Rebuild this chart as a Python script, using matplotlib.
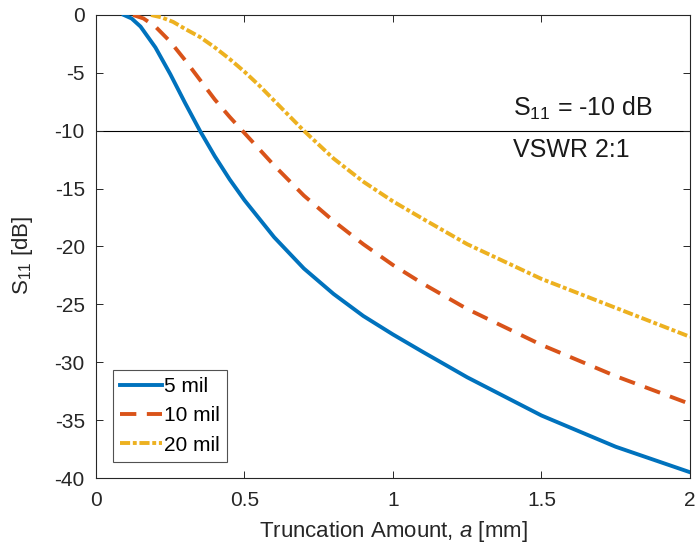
import matplotlib
matplotlib.use("Agg")
import matplotlib.pyplot as plt

plt.rcParams['font.family'] = ['Liberation Sans', 'DejaVu Sans']
plt.rcParams['axes.unicode_minus'] = False
plt.rcParams['mathtext.fontset'] = 'custom'
plt.rcParams['mathtext.rm'] = 'Liberation Sans'
plt.rcParams['mathtext.it'] = 'Liberation Sans:italic'

x_5mil = [0.094, 0.12, 0.15, 0.2, 0.25, 0.3, 0.35, 0.4, 0.45, 0.5, 0.6, 0.7, 0.8, 0.9, 1.0, 1.1, 1.25, 1.5, 1.75, 2.0]
y_5mil = [0.0, -0.3, -1.0, -2.8, -5.1, -7.6, -10.0, -12.2, -14.2, -16.0, -19.2, -21.9, -24.1, -26.0, -27.6, -29.1, -31.3, -34.6, -37.3, -39.5]

x_10mil = [0.125, 0.16, 0.2, 0.25, 0.3, 0.35, 0.4, 0.45, 0.5, 0.6, 0.7, 0.8, 0.9, 1.0, 1.1, 1.25, 1.5, 1.75, 2.0]
y_10mil = [0.0, -0.3, -1.0, -2.3, -3.9, -5.6, -7.3, -8.8, -10.2, -13.0, -15.6, -17.8, -19.8, -21.6, -23.2, -25.4, -28.5, -31.2, -33.6]

x_20mil = [0.185, 0.22, 0.26, 0.3, 0.35, 0.4, 0.45, 0.5, 0.55, 0.6, 0.65, 0.7, 0.8, 0.9, 1.0, 1.1, 1.25, 1.5, 1.75, 2.0]
y_20mil = [0.0, -0.2, -0.6, -1.2, -1.9, -2.8, -3.8, -4.9, -6.1, -7.4, -8.7, -10.0, -12.4, -14.4, -16.1, -17.6, -19.8, -22.8, -25.3, -27.8]

labels = ['5 mil', '10 mil', '20 mil']
colors = ['#0072BD', '#D95319', '#EDB120']
ref_level = -10

fig = plt.figure(figsize=(6.98, 5.53), dpi=100)
ax = fig.add_axes([0.1375, 0.1356, 0.851, 0.8373])

ax.axhline(ref_level, color='black', lw=0.8, zorder=1)
l1, = ax.plot(x_5mil, y_5mil, color=colors[0], lw=2.8, label=labels[0], zorder=3)
l2, = ax.plot(x_10mil, y_10mil, color=colors[1], lw=2.8, label=labels[1], zorder=3)
l2.set_dashes((4.2, 2.7))
l3, = ax.plot(x_20mil, y_20mil, color=colors[2], lw=2.8, label=labels[2], zorder=3)
l3.set_dashes((2.6, 0.7, 1.0, 0.7))

ax.set_xlim(0, 2)
ax.set_ylim(-40, 0)
ax.set_xticks([0, 0.5, 1, 1.5, 2])
ax.set_xticklabels(['0', '0.5', '1', '1.5', '2'])
ax.set_yticks(range(-40, 1, 5))
ax.tick_params(direction='in', top=True, right=True, labelsize=15,
               length=5, width=0.7, colors='#262626')
ax.tick_params(axis='x', pad=9)
ax.tick_params(axis='y', pad=8)
for s in ax.spines.values():
    s.set_color('#262626')
    s.set_linewidth(0.8)

ax.set_xlabel('Truncation Amount, $\\mathit{a}$ [mm]', fontsize=16, color='#262626', labelpad=7)
ax.set_ylabel('$\\mathregular{S_{11}}$ [dB]', fontsize=16, color='#262626')
ax.yaxis.set_label_coords(-0.103, 0.48)

ax.text(1.404, -8.7, '$\\mathregular{S_{11}}$ = -10 dB', fontsize=18, color='#1a1a1a', va='baseline', ha='left')
ax.text(1.404, -12.3, 'VSWR 2:1', fontsize=18, color='#1a1a1a', va='baseline', ha='left')

leg = ax.legend(loc='lower left', bbox_to_anchor=(0.0286, 0.0346), borderaxespad=0,
                fontsize=15, frameon=True, fancybox=False, edgecolor='#262626',
                handlelength=2.0, handletextpad=0.1, labelspacing=0.5, borderpad=0.35)
leg.get_frame().set_linewidth(0.8)

fig.savefig('out.png', dpi=100)
